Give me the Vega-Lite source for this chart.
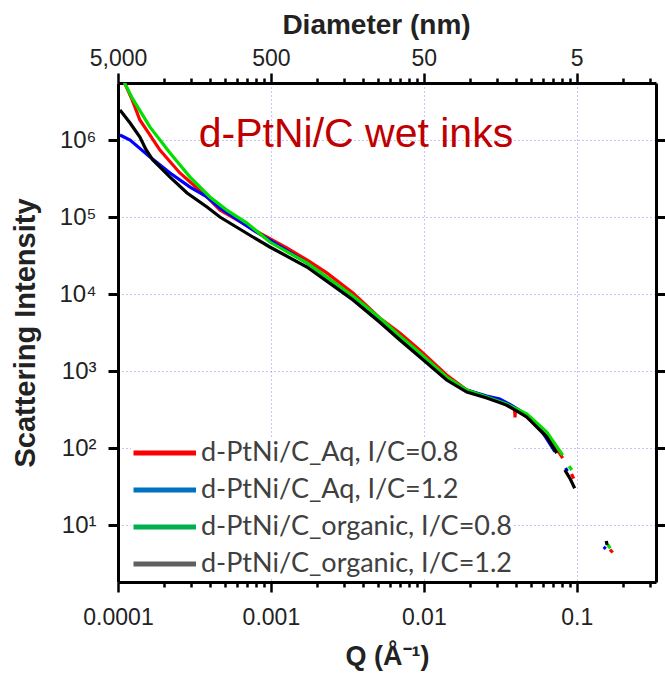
{
 "$schema": "https://vega.github.io/schema/vega-lite/v6.json",
 "width": 538, "height": 499,
 "autosize": {"type": "none"},
 "padding": {"left": 118, "top": 83, "right": 9, "bottom": 95},
 "background": "white",
 "config": {"view": {"stroke": null}, "font": "Liberation Sans"},
 "datasets": {
  "curves": [
   {"s":"d-PtNi/C_Aq, I/C=0.8","g":"r1","q":0.000110,"i":5600000},
   {"s":"d-PtNi/C_Aq, I/C=0.8","g":"r1","q":0.000124,"i":3300000},
   {"s":"d-PtNi/C_Aq, I/C=0.8","g":"r1","q":0.000139,"i":1820000},
   {"s":"d-PtNi/C_Aq, I/C=0.8","g":"r1","q":0.000162,"i":1160000},
   {"s":"d-PtNi/C_Aq, I/C=0.8","g":"r1","q":0.000188,"i":741000},
   {"s":"d-PtNi/C_Aq, I/C=0.8","g":"r1","q":0.000254,"i":373000},
   {"s":"d-PtNi/C_Aq, I/C=0.8","g":"r1","q":0.000382,"i":182000},
   {"s":"d-PtNi/C_Aq, I/C=0.8","g":"r1","q":0.000464,"i":123000},
   {"s":"d-PtNi/C_Aq, I/C=0.8","g":"r1","q":0.000600,"i":91500},
   {"s":"d-PtNi/C_Aq, I/C=0.8","g":"r1","q":0.000847,"i":61900},
   {"s":"d-PtNi/C_Aq, I/C=0.8","g":"r1","q":0.00127,"i":39600},
   {"s":"d-PtNi/C_Aq, I/C=0.8","g":"r1","q":0.00172,"i":27700},
   {"s":"d-PtNi/C_Aq, I/C=0.8","g":"r1","q":0.00232,"i":18800},
   {"s":"d-PtNi/C_Aq, I/C=0.8","g":"r1","q":0.00344,"i":10300},
   {"s":"d-PtNi/C_Aq, I/C=0.8","g":"r1","q":0.00515,"i":4880},
   {"s":"d-PtNi/C_Aq, I/C=0.8","g":"r1","q":0.00697,"i":3120},
   {"s":"d-PtNi/C_Aq, I/C=0.8","g":"r1","q":0.00942,"i":1870},
   {"s":"d-PtNi/C_Aq, I/C=0.8","g":"r1","q":0.0141,"i":888},
   {"s":"d-PtNi/C_Aq, I/C=0.8","g":"r1","q":0.0191,"i":566},
   {"s":"d-PtNi/C_Aq, I/C=0.8","g":"r1","q":0.0258,"i":459},
   {"s":"d-PtNi/C_Aq, I/C=0.8","g":"r1","q":0.0314,"i":395},
   {"s":"d-PtNi/C_Aq, I/C=0.8","g":"r1","q":0.0382,"i":330},
   {"s":"d-PtNi/C_Aq, I/C=0.8","g":"r1","q":0.0392,"i":326},
   {"s":"d-PtNi/C_Aq, I/C=0.8","g":"r1","q":0.0395,"i":250},
   {"s":"d-PtNi/C_Aq, I/C=0.8","g":"r1","q":0.0398,"i":320},
   {"s":"d-PtNi/C_Aq, I/C=0.8","g":"r1","q":0.0471,"i":253},
   {"s":"d-PtNi/C_Aq, I/C=0.8","g":"r1","q":0.0573,"i":182},
   {"s":"d-PtNi/C_Aq, I/C=0.8","g":"r1","q":0.0697,"i":116},
   {"s":"d-PtNi/C_Aq, I/C=0.8","g":"r1","q":0.081,"i":74},
   {"s":"d-PtNi/C_Aq, I/C=0.8","g":"r2","q":0.0925,"i":46},
   {"s":"d-PtNi/C_Aq, I/C=0.8","g":"r2","q":0.0955,"i":40},
   {"s":"d-PtNi/C_Aq, I/C=0.8","g":"r3","q":0.165,"i":4.8},
   {"s":"d-PtNi/C_Aq, I/C=0.8","g":"r3","q":0.172,"i":4.4},

   {"s":"d-PtNi/C_Aq, I/C=1.2","g":"b1","q":0.000103,"i":1160000},
   {"s":"d-PtNi/C_Aq, I/C=1.2","g":"b1","q":0.000120,"i":1000000},
   {"s":"d-PtNi/C_Aq, I/C=1.2","g":"b1","q":0.000162,"i":600000},
   {"s":"d-PtNi/C_Aq, I/C=1.2","g":"b1","q":0.000219,"i":373000},
   {"s":"d-PtNi/C_Aq, I/C=1.2","g":"b1","q":0.000296,"i":245000},
   {"s":"d-PtNi/C_Aq, I/C=1.2","g":"b1","q":0.000382,"i":182000},
   {"s":"d-PtNi/C_Aq, I/C=1.2","g":"b1","q":0.000464,"i":131000},
   {"s":"d-PtNi/C_Aq, I/C=1.2","g":"b1","q":0.000762,"i":67800},
   {"s":"d-PtNi/C_Aq, I/C=1.2","g":"b1","q":0.000984,"i":50200},
   {"s":"d-PtNi/C_Aq, I/C=1.2","g":"b1","q":0.00172,"i":25300},
   {"s":"d-PtNi/C_Aq, I/C=1.2","g":"b1","q":0.00344,"i":9140},
   {"s":"d-PtNi/C_Aq, I/C=1.2","g":"b1","q":0.00515,"i":4590},
   {"s":"d-PtNi/C_Aq, I/C=1.2","g":"b1","q":0.00697,"i":2770},
   {"s":"d-PtNi/C_Aq, I/C=1.2","g":"b1","q":0.00942,"i":1660},
   {"s":"d-PtNi/C_Aq, I/C=1.2","g":"b1","q":0.0141,"i":811},
   {"s":"d-PtNi/C_Aq, I/C=1.2","g":"b1","q":0.0191,"i":566},
   {"s":"d-PtNi/C_Aq, I/C=1.2","g":"b1","q":0.0258,"i":473},
   {"s":"d-PtNi/C_Aq, I/C=1.2","g":"b1","q":0.0314,"i":433},
   {"s":"d-PtNi/C_Aq, I/C=1.2","g":"b1","q":0.0382,"i":351},
   {"s":"d-PtNi/C_Aq, I/C=1.2","g":"b1","q":0.0471,"i":268},
   {"s":"d-PtNi/C_Aq, I/C=1.2","g":"b1","q":0.0573,"i":182},
   {"s":"d-PtNi/C_Aq, I/C=1.2","g":"b1","q":0.072,"i":90},
   {"s":"d-PtNi/C_Aq, I/C=1.2","g":"b2","q":0.0845,"i":55},
   {"s":"d-PtNi/C_Aq, I/C=1.2","g":"b2","q":0.087,"i":50},
   {"s":"d-PtNi/C_Aq, I/C=1.2","g":"b3","q":0.150,"i":5.2},
   {"s":"d-PtNi/C_Aq, I/C=1.2","g":"b3","q":0.155,"i":4.9},

   {"s":"d-PtNi/C_organic, I/C=0.8","g":"g1","q":0.000110,"i":5600000},
   {"s":"d-PtNi/C_organic, I/C=0.8","g":"g1","q":0.000124,"i":3500000},
   {"s":"d-PtNi/C_organic, I/C=0.8","g":"g1","q":0.000162,"i":1470000},
   {"s":"d-PtNi/C_organic, I/C=0.8","g":"g1","q":0.000219,"i":678000},
   {"s":"d-PtNi/C_organic, I/C=0.8","g":"g1","q":0.000296,"i":330000},
   {"s":"d-PtNi/C_organic, I/C=0.8","g":"g1","q":0.000399,"i":182000},
   {"s":"d-PtNi/C_organic, I/C=0.8","g":"g1","q":0.000515,"i":123000},
   {"s":"d-PtNi/C_organic, I/C=0.8","g":"g1","q":0.000697,"i":83500},
   {"s":"d-PtNi/C_organic, I/C=0.8","g":"g1","q":0.000984,"i":47300},
   {"s":"d-PtNi/C_organic, I/C=0.8","g":"g1","q":0.00172,"i":25300},
   {"s":"d-PtNi/C_organic, I/C=0.8","g":"g1","q":0.00344,"i":9420},
   {"s":"d-PtNi/C_organic, I/C=0.8","g":"g1","q":0.00515,"i":4880},
   {"s":"d-PtNi/C_organic, I/C=0.8","g":"g1","q":0.00697,"i":2850},
   {"s":"d-PtNi/C_organic, I/C=0.8","g":"g1","q":0.00942,"i":1710},
   {"s":"d-PtNi/C_organic, I/C=0.8","g":"g1","q":0.0141,"i":835},
   {"s":"d-PtNi/C_organic, I/C=0.8","g":"g1","q":0.0191,"i":566},
   {"s":"d-PtNi/C_organic, I/C=0.8","g":"g1","q":0.0258,"i":459},
   {"s":"d-PtNi/C_organic, I/C=0.8","g":"g1","q":0.0348,"i":373},
   {"s":"d-PtNi/C_organic, I/C=0.8","g":"g1","q":0.0471,"i":277},
   {"s":"d-PtNi/C_organic, I/C=0.8","g":"g1","q":0.0637,"i":161},
   {"s":"d-PtNi/C_organic, I/C=0.8","g":"g1","q":0.081,"i":81},
   {"s":"d-PtNi/C_organic, I/C=0.8","g":"g2","q":0.089,"i":58},
   {"s":"d-PtNi/C_organic, I/C=0.8","g":"g2","q":0.093,"i":52},
   {"s":"d-PtNi/C_organic, I/C=0.8","g":"g3","q":0.159,"i":5.6},
   {"s":"d-PtNi/C_organic, I/C=0.8","g":"g3","q":0.166,"i":5.0},

   {"s":"d-PtNi/C_organic, I/C=1.2","g":"k1","q":0.000103,"i":2450000},
   {"s":"d-PtNi/C_organic, I/C=1.2","g":"k1","q":0.000120,"i":1660000},
   {"s":"d-PtNi/C_organic, I/C=1.2","g":"k1","q":0.000139,"i":1090000},
   {"s":"d-PtNi/C_organic, I/C=1.2","g":"k1","q":0.000152,"i":760000},
   {"s":"d-PtNi/C_organic, I/C=1.2","g":"k1","q":0.000169,"i":550000},
   {"s":"d-PtNi/C_organic, I/C=1.2","g":"k1","q":0.000219,"i":330000},
   {"s":"d-PtNi/C_organic, I/C=1.2","g":"k1","q":0.000283,"i":205000},
   {"s":"d-PtNi/C_organic, I/C=1.2","g":"k1","q":0.000382,"i":135000},
   {"s":"d-PtNi/C_organic, I/C=1.2","g":"k1","q":0.000464,"i":100000},
   {"s":"d-PtNi/C_organic, I/C=1.2","g":"k1","q":0.000762,"i":55000},
   {"s":"d-PtNi/C_organic, I/C=1.2","g":"k1","q":0.000984,"i":40800},
   {"s":"d-PtNi/C_organic, I/C=1.2","g":"k1","q":0.00172,"i":22400},
   {"s":"d-PtNi/C_organic, I/C=1.2","g":"k1","q":0.00344,"i":8350},
   {"s":"d-PtNi/C_organic, I/C=1.2","g":"k1","q":0.00515,"i":4300},
   {"s":"d-PtNi/C_organic, I/C=1.2","g":"k1","q":0.00697,"i":2530},
   {"s":"d-PtNi/C_organic, I/C=1.2","g":"k1","q":0.00942,"i":1520},
   {"s":"d-PtNi/C_organic, I/C=1.2","g":"k1","q":0.0141,"i":764},
   {"s":"d-PtNi/C_organic, I/C=1.2","g":"k1","q":0.0191,"i":533},
   {"s":"d-PtNi/C_organic, I/C=1.2","g":"k1","q":0.0258,"i":446},
   {"s":"d-PtNi/C_organic, I/C=1.2","g":"k1","q":0.0348,"i":361},
   {"s":"d-PtNi/C_organic, I/C=1.2","g":"k1","q":0.0471,"i":253},
   {"s":"d-PtNi/C_organic, I/C=1.2","g":"k1","q":0.0637,"i":139},
   {"s":"d-PtNi/C_organic, I/C=1.2","g":"k1","q":0.074,"i":86},
   {"s":"d-PtNi/C_organic, I/C=1.2","g":"k2","q":0.0836,"i":52},
   {"s":"d-PtNi/C_organic, I/C=1.2","g":"k2","q":0.0905,"i":40},
   {"s":"d-PtNi/C_organic, I/C=1.2","g":"k2","q":0.097,"i":30},
   {"s":"d-PtNi/C_organic, I/C=1.2","g":"k3","q":0.156,"i":6.2},
   {"s":"d-PtNi/C_organic, I/C=1.2","g":"k3","q":0.158,"i":5.5}
  ]
 },
 "layer": [
  {
   "data": {"name": "curves"},
   "mark": {"type": "line", "strokeWidth": 3.2, "clip": true},
   "encoding": {
    "x": {"field": "q", "type": "quantitative",
     "scale": {"type": "log", "domain": [0.0001, 0.33], "nice": false},
     "axis": {
      "orient": "bottom",
      "values": [0.0001,0.0002,0.0003,0.0004,0.0005,0.0006,0.0007,0.0008,0.0009,0.001,0.002,0.003,0.004,0.005,0.006,0.007,0.008,0.009,0.01,0.02,0.03,0.04,0.05,0.06,0.07,0.08,0.09,0.1,0.2,0.3],
      "labelExpr": "abs(log(datum.value)/LN10 - round(log(datum.value)/LN10)) < 0.01 ? format(datum.value, '~g') : ''",
      "labelFlush": false, "labelOverlap": false,
      "labelFontSize": 23, "labelColor": "#222222", "labelPadding": 14,
      "tickSize": {"condition": {"test": "abs(log(datum.value)/LN10 - round(log(datum.value)/LN10)) < 0.01", "value": 10}, "value": 5},
      "tickWidth": 2.5, "tickColor": "black",
      "domainWidth": 3, "domainColor": "black",
      "grid": true, "gridColor": "#7070ee", "gridDash": [1, 3], "gridWidth": 1,
      "gridOpacity": {"condition": {"test": "abs(log(datum.value)/LN10 - round(log(datum.value)/LN10)) < 0.01", "value": 0.8}, "value": 0},
      "title": "Q (Å⁻¹)", "titleFontSize": 27, "titleFontWeight": "bold", "titleColor": "#222222", "titlePadding": 14
     }
    },
    "y": {"field": "i", "type": "quantitative",
     "scale": {"type": "log", "domain": [1.82, 5500000], "nice": false},
     "axis": {
      "orient": "left",
      "values": [10, 100, 1000, 10000, 100000, 1000000],
      "labelExpr": "'10' + ['⁰','¹','²','³','⁴','⁵','⁶','⁷'][round(log(datum.value)/LN10)]",
      "labelFontSize": 24, "labelColor": "#222222", "labelPadding": 12,
      "tickSize": 10, "tickWidth": 3, "tickColor": "black",
      "domainWidth": 3, "domainColor": "black",
      "grid": true, "gridColor": "#7070ee", "gridDash": [1, 3], "gridWidth": 1, "gridOpacity": 0.8,
      "title": "Scattering Intensity", "titleFontSize": 29, "titleFontWeight": "bold", "titleColor": "#222222", "titlePadding": 18
     }
    },
    "color": {"field": "s", "type": "nominal",
     "scale": {"domain": ["d-PtNi/C_Aq, I/C=0.8", "d-PtNi/C_Aq, I/C=1.2", "d-PtNi/C_organic, I/C=0.8", "d-PtNi/C_organic, I/C=1.2"],
               "range": ["#ff0000", "#0000ff", "#00e000", "#000000"]},
     "legend": null},
    "detail": {"field": "g"}
   }
  },
  {
   "data": {"name": "curves"},
   "transform": [{"filter": "false"}],
   "mark": {"type": "line", "strokeWidth": 5},
   "encoding": {
    "x": {"field": "q", "type": "quantitative",
     "scale": {"type": "log", "domain": [0.0001, 0.33], "nice": false},
     "axis": {
      "orient": "top",
      "values": [0.0001,0.0002,0.0003,0.0004,0.0005,0.0006,0.0007,0.0008,0.0009,0.001,0.002,0.003,0.004,0.005,0.006,0.007,0.008,0.009,0.01,0.02,0.03,0.04,0.05,0.06,0.07,0.08,0.09,0.1,0.2,0.3],
      "labelExpr": "abs(log(datum.value)/LN10 - round(log(datum.value)/LN10)) < 0.01 ? format(0.5/datum.value, ',.0f') : ''",
      "labelFlush": false, "labelOverlap": false,
      "labelFontSize": 23, "labelColor": "#222222", "labelPadding": 3,
      "tickSize": {"condition": {"test": "abs(log(datum.value)/LN10 - round(log(datum.value)/LN10)) < 0.01", "value": 10}, "value": 5},
      "tickWidth": 2.5, "tickColor": "black",
      "domainWidth": 3, "domainColor": "black",
      "grid": false,
      "title": "Diameter (nm)", "titleFontSize": 28, "titleFontWeight": "bold", "titleColor": "#222222", "titlePadding": 8, "titleX": 258
     }
    },
    "y": {"field": "i", "type": "quantitative",
     "scale": {"type": "log", "domain": [1.82, 5500000], "nice": false},
     "axis": {
      "orient": "right",
      "values": [10, 100, 1000, 10000, 100000, 1000000],
      "labels": false,
      "tickSize": 10, "tickWidth": 3, "tickColor": "black",
      "domainWidth": 3, "domainColor": "black",
      "grid": false, "title": null
     }
    },
    "color": {"field": "s", "type": "nominal",
     "scale": {"domain": ["d-PtNi/C_Aq, I/C=0.8", "d-PtNi/C_Aq, I/C=1.2", "d-PtNi/C_organic, I/C=0.8", "d-PtNi/C_organic, I/C=1.2"],
               "range": ["#ff0000", "#0070c0", "#00b050", "#606060"]},
     "legend": {
      "orient": "none", "legendX": 13, "legendY": 355, "title": null,
      "symbolType": "M-1,0H4", "symbolSize": 625, "symbolStrokeWidth": 5,
      "labelFont": "Lato", "labelFontSize": 27, "labelColor": "#404040",
      "labelOffset": 40, "rowPadding": 9, "padding": 0, "fillColor": "white", "labelLimit": 400
     }
    }
   }
  },
  {
   "data": {"values": [{"q": 0.0036, "i": 1160000, "t": "d-PtNi/C wet inks"}]},
   "mark": {"type": "text", "font": "Liberation Sans", "fontSize": 41, "color": "#c00000", "align": "center", "baseline": "middle"},
   "encoding": {
    "x": {"field": "q", "type": "quantitative", "scale": {"type": "log", "domain": [0.0001, 0.33], "nice": false}, "axis": null},
    "y": {"field": "i", "type": "quantitative", "scale": {"type": "log", "domain": [1.82, 5500000], "nice": false}, "axis": null},
    "text": {"field": "t"}
   }
  }
 ],
 "resolve": {"scale": {"color": "independent"}, "axis": {"x": "independent", "y": "independent"}}
}
